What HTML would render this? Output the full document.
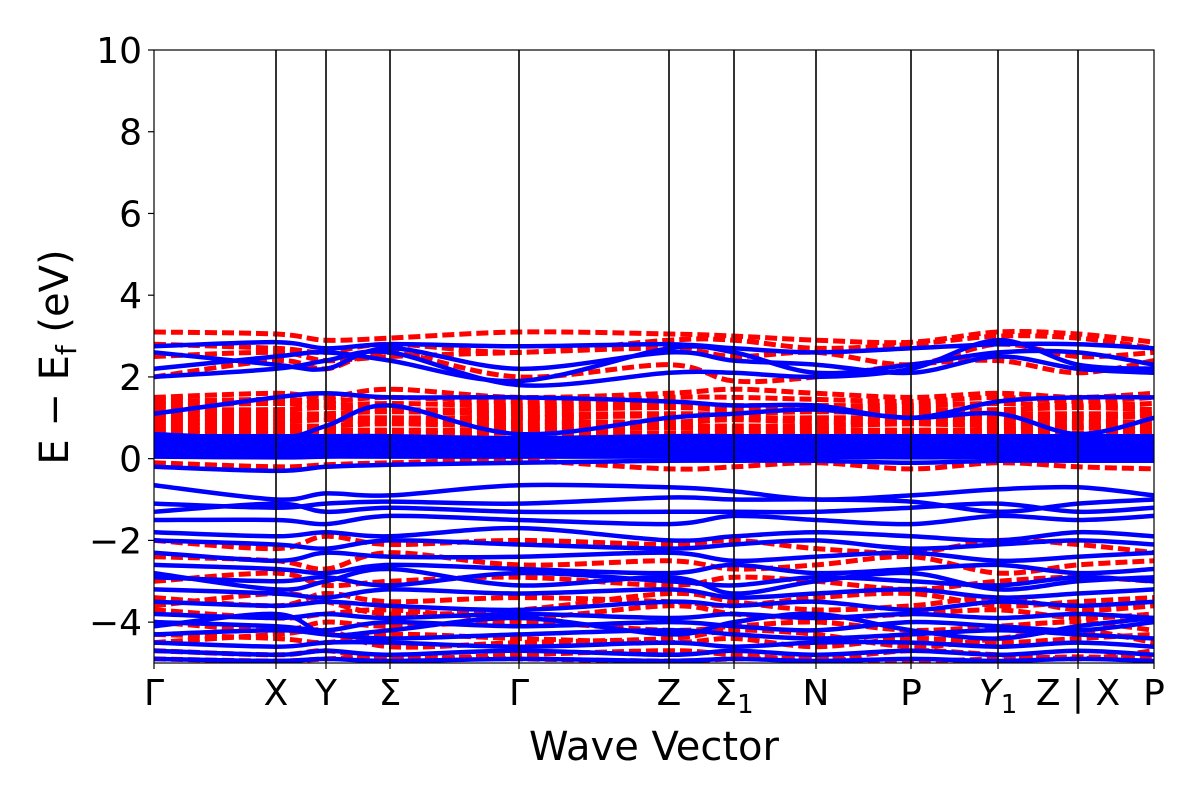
<!DOCTYPE html>
<html><head><meta charset="utf-8"><style>
body{margin:0;background:#fff;}
svg text{font-family:"DejaVu Sans","Liberation Sans",sans-serif;fill:#000;}
</style></head><body>
<svg id="chart" width="1200" height="800" viewBox="0 0 1200 800" xmlns="http://www.w3.org/2000/svg">
<defs><clipPath id="clip"><rect x="154" y="50" width="1000" height="613"/></clipPath></defs>
<g id="bands" clip-path="url(#clip)"></g>
<g id="vlines"></g>
<rect x="154" y="50" width="1000" height="613" fill="none" stroke="#000" stroke-width="1.2"/>
<g id="yaxis"></g>
<g id="xaxis"></g>
<text x="654" y="760" font-size="40" text-anchor="middle">Wave Vector</text>
<text transform="translate(68,357) rotate(-90)" font-size="40" text-anchor="middle">E − E<tspan font-size="28" dy="8">f</tspan><tspan dy="-8"> (eV)</tspan></text>
</svg>
<script>
const kPos=[0,122,172,236,365,515,580,662,757,844,924,1000];
const kLabels=["Γ","X","Y","Σ","Γ","Z","Σ_1","N","P","Y_1","Z | X","P"];
const yTicks=[10,8,6,4,2,0,-2,-4];
const redBands=[
[3.1,3.05,2.9,2.95,3.1,3.05,3.0,2.9,2.85,3.1,3.05,2.85],
[2.8,2.7,2.6,2.8,2.6,2.9,2.9,2.7,2.8,3.0,2.95,2.7],
[2.5,2.6,2.4,2.5,2.6,2.7,2.5,2.6,2.3,2.8,2.5,2.6],
[2.0,2.4,2.2,2.6,2.0,2.3,1.9,2.0,2.3,2.4,2.1,2.4],
[1.5,1.6,1.5,1.7,1.5,1.6,1.7,1.6,1.5,1.6,1.5,1.6],
[1.4,1.45,1.4,1.5,1.4,1.5,1.5,1.45,1.4,1.5,1.4,1.5],
[1.3,1.35,1.3,1.35,1.3,1.35,1.3,1.3,1.3,1.35,1.3,1.35],
[1.2,1.2,1.25,1.2,1.2,1.25,1.2,1.2,1.2,1.2,1.25,1.2],
[1.1,1.1,1.1,1.15,1.1,1.1,1.1,1.15,1.1,1.1,1.1,1.1],
[1.0,1.0,1.0,1.0,1.0,1.05,1.0,1.0,1.0,1.0,1.0,1.05],
[0.9,0.9,0.95,0.9,0.9,0.9,0.95,0.9,0.9,0.9,0.9,0.9],
[0.8,0.8,0.8,0.85,0.8,0.8,0.8,0.8,0.85,0.8,0.8,0.8],
[0.7,0.7,0.7,0.7,0.7,0.75,0.7,0.7,0.7,0.7,0.75,0.7],
[0.62,0.62,0.62,0.62,0.62,0.62,0.62,0.62,0.62,0.62,0.62,0.62],
[-0.1,-0.2,-0.15,-0.1,-0.05,-0.25,-0.2,-0.1,-0.25,-0.1,-0.2,-0.25],
[-2.0,-2.2,-1.9,-2.1,-2.0,-2.1,-2.0,-2.2,-2.3,-2.0,-2.1,-2.3],
[-2.4,-2.5,-2.7,-2.3,-2.6,-2.5,-2.7,-2.6,-2.4,-2.8,-2.6,-2.5],
[-3.0,-2.8,-3.1,-3.0,-2.9,-3.1,-2.9,-3.0,-3.2,-3.0,-2.9,-3.0],
[-3.4,-3.6,-3.3,-3.5,-3.4,-3.5,-3.6,-3.4,-3.3,-3.6,-3.5,-3.4],
[-3.7,-3.9,-3.8,-3.7,-3.9,-3.6,-3.8,-3.9,-3.8,-3.7,-3.9,-3.8],
[-4.0,-4.2,-4.0,-4.1,-4.0,-4.2,-4.1,-4.0,-4.2,-4.1,-4.0,-4.2],
[-4.3,-4.4,-4.5,-4.3,-4.4,-4.5,-4.4,-4.6,-4.4,-4.5,-4.4,-4.3],
[-4.7,-4.8,-4.7,-4.9,-4.8,-4.7,-4.8,-4.9,-4.7,-4.8,-4.9,-4.7],
[-4.9,-4.95,-4.9,-4.85,-4.9,-4.95,-4.9,-4.9,-4.95,-4.9,-4.85,-4.9],
[-3.6,-3.3,-3.5,-3.8,-3.7,-3.3,-3.5,-3.7,-3.6,-3.4,-3.7,-3.6],
[-4.5,-4.3,-4.2,-4.6,-4.5,-4.4,-4.2,-4.3,-4.6,-4.4,-4.2,-4.5]
];
const blueBands=[
[2.75,2.85,2.7,2.8,2.75,2.8,2.7,2.6,2.7,2.8,2.8,2.7],
[2.2,2.5,2.6,2.4,1.9,2.7,2.6,2.1,2.3,2.6,2.6,2.3],
[2.0,2.2,2.4,2.6,1.8,2.1,2.1,2.0,2.2,2.9,2.3,2.2],
[2.6,2.3,2.2,2.7,2.2,2.6,2.4,2.3,2.1,2.5,2.2,2.1],
[1.1,1.5,1.6,1.5,1.5,1.4,1.3,1.3,1.0,1.4,1.5,1.5],
[0.6,0.5,0.8,1.3,0.6,1.0,1.1,1.2,1.0,1.1,0.6,1.0],
[0.55,0.55,0.55,0.55,0.5,0.55,0.55,0.55,0.55,0.55,0.55,0.55],
[0.48,0.48,0.5,0.48,0.48,0.5,0.48,0.48,0.5,0.48,0.48,0.5],
[0.42,0.42,0.42,0.44,0.42,0.42,0.42,0.44,0.42,0.42,0.42,0.42],
[0.36,0.36,0.36,0.36,0.38,0.36,0.36,0.36,0.36,0.38,0.36,0.36],
[0.3,0.3,0.3,0.3,0.3,0.3,0.3,0.32,0.3,0.3,0.3,0.3],
[0.24,0.24,0.24,0.24,0.24,0.24,0.26,0.24,0.24,0.24,0.24,0.24],
[0.18,0.18,0.18,0.2,0.18,0.18,0.18,0.18,0.18,0.18,0.2,0.18],
[0.12,0.12,0.12,0.12,0.12,0.14,0.12,0.12,0.12,0.12,0.12,0.12],
[0.05,0.03,0.05,0.05,0.05,0.05,0.05,0.05,0.03,0.05,0.05,0.05],
[-0.2,-0.3,-0.2,-0.15,-0.1,-0.05,-0.05,-0.05,-0.1,-0.05,-0.05,-0.05],
[-0.65,-1.0,-0.85,-0.9,-0.65,-0.7,-0.8,-1.0,-0.9,-0.75,-0.7,-0.9],
[-1.1,-1.2,-1.1,-1.05,-1.1,-0.95,-1.0,-1.0,-1.05,-1.3,-1.1,-1.0],
[-1.3,-1.1,-1.3,-1.2,-1.3,-1.3,-1.3,-1.3,-1.2,-1.1,-1.3,-1.2],
[-1.5,-1.5,-1.6,-1.4,-1.5,-1.6,-1.4,-1.5,-1.6,-1.4,-1.5,-1.4],
[-1.8,-1.9,-1.8,-1.9,-1.7,-2.0,-1.9,-1.8,-1.9,-2.0,-1.8,-1.9],
[-2.0,-2.1,-2.2,-2.0,-2.1,-2.2,-2.1,-2.0,-2.2,-2.1,-2.0,-2.1],
[-2.3,-2.5,-2.3,-2.4,-2.4,-2.3,-2.5,-2.4,-2.3,-2.5,-2.4,-2.3],
[-2.6,-2.7,-2.8,-2.6,-2.7,-2.8,-2.6,-2.8,-2.7,-2.6,-2.8,-2.7],
[-2.9,-3.0,-2.9,-3.1,-2.8,-3.0,-3.1,-2.9,-3.0,-3.1,-2.9,-3.0],
[-3.2,-3.3,-3.4,-3.2,-3.3,-3.2,-3.4,-3.3,-3.2,-3.4,-3.3,-3.2],
[-3.5,-3.6,-3.5,-3.6,-3.7,-3.5,-3.6,-3.5,-3.7,-3.5,-3.6,-3.5],
[-3.8,-3.9,-3.8,-3.9,-3.8,-3.9,-3.8,-3.9,-3.8,-3.9,-3.8,-3.9],
[-4.0,-4.1,-4.2,-4.0,-4.1,-4.0,-4.1,-4.2,-4.0,-4.1,-4.2,-4.0],
[-4.3,-4.2,-4.3,-4.4,-4.3,-4.2,-4.3,-4.4,-4.3,-4.2,-4.3,-4.4],
[-4.5,-4.6,-4.5,-4.5,-4.6,-4.5,-4.6,-4.5,-4.5,-4.6,-4.5,-4.6],
[-4.7,-4.8,-4.7,-4.8,-4.7,-4.8,-4.7,-4.8,-4.7,-4.8,-4.7,-4.8],
[-4.9,-4.95,-4.9,-4.95,-4.9,-4.95,-4.9,-4.95,-4.9,-4.95,-4.9,-4.95],
[-2.8,-3.2,-3.0,-2.7,-3.1,-2.9,-3.3,-3.0,-2.8,-3.2,-3.0,-2.9],
[-4.1,-3.8,-4.3,-4.2,-3.9,-4.3,-4.0,-3.8,-4.2,-4.4,-4.1,-3.9]
];
const NS="http://www.w3.org/2000/svg";
const X0=154,X1=1154,Y0=663,Y1=50,EMIN=-5,EMAX=10;
function xS(k){return X0+(X1-X0)*k/1000;}
function yS(e){return Y0-(Y0-Y1)*(e-EMIN)/(EMAX-EMIN);}
function pathFor(b){
  const p=b.map((e,i)=>[xS(kPos[i]),yS(e)]);
  let d="M"+p[0][0].toFixed(1)+","+p[0][1].toFixed(1);
  for(let i=0;i<p.length-1;i++){
    const a=p[Math.max(0,i-1)],b0=p[i],c=p[i+1],n=p[Math.min(p.length-1,i+2)];
    const c1x=b0[0]+(c[0]-a[0])/6,c1y=b0[1]+(c[1]-a[1])/6;
    const c2x=c[0]-(n[0]-b0[0])/6,c2y=c[1]-(n[1]-b0[1])/6;
    d+=" C"+c1x.toFixed(1)+","+c1y.toFixed(1)+" "+c2x.toFixed(1)+","+c2y.toFixed(1)+" "+c[0].toFixed(1)+","+c[1].toFixed(1);
  }
  return d;
}
const g=document.getElementById("bands");
redBands.forEach((b,i)=>{
  const el=document.createElementNS(NS,"path");
  el.setAttribute("d",pathFor(b));
  el.setAttribute("fill","none");el.setAttribute("stroke","#ff0000");
  el.setAttribute("stroke-width","5");el.setAttribute("stroke-dasharray","12,5");
  
  
  g.appendChild(el);
});
blueBands.forEach((b,i)=>{
  const el=document.createElementNS(NS,"path");
  el.setAttribute("d",pathFor(b));
  el.setAttribute("fill","none");el.setAttribute("stroke","#0000ff");
  el.setAttribute("stroke-width","4.5");
  
  
  g.appendChild(el);
});
const vl=document.getElementById("vlines"),xa=document.getElementById("xaxis");
kPos.forEach((k,i)=>{
  const x=xS(k);
  if(i>0&&i<kPos.length-1){
    const l=document.createElementNS(NS,"line");
    l.setAttribute("x1",x);l.setAttribute("x2",x);l.setAttribute("y1",Y1);l.setAttribute("y2",Y0);
    l.setAttribute("stroke","#000");l.setAttribute("stroke-width","1.6");
    
    
    vl.appendChild(l);
  }
  const t=document.createElementNS(NS,"line");
  t.setAttribute("x1",x);t.setAttribute("x2",x);t.setAttribute("y1",Y0);t.setAttribute("y2",Y0+6);
  t.setAttribute("stroke","#000");t.setAttribute("stroke-width","1.2");
  
  
  xa.appendChild(t);
  const tx=document.createElementNS(NS,"text");
  tx.setAttribute("x",x);tx.setAttribute("y",705);tx.setAttribute("font-size","36");
  tx.setAttribute("text-anchor","middle");
  const parts=kLabels[i].split("_");
  const m=document.createElementNS(NS,"tspan");
  m.textContent=parts[0];
  if(parts[0]==="Y"&&parts.length>1)m.setAttribute("font-style","italic");
  tx.appendChild(m);
  if(parts.length>1){
    const s=document.createElementNS(NS,"tspan");
    s.setAttribute("font-size","26");s.setAttribute("dy","8");
    s.textContent=parts[1];
    tx.appendChild(s);
  }
  
  
  xa.appendChild(tx);
});
const ya=document.getElementById("yaxis");
yTicks.forEach(v=>{
  const y=yS(v);
  const t=document.createElementNS(NS,"line");
  t.setAttribute("x1",X0-6);t.setAttribute("x2",X0);t.setAttribute("y1",y);t.setAttribute("y2",y);
  t.setAttribute("stroke","#000");t.setAttribute("stroke-width","1.2");
  
  
  ya.appendChild(t);
  const tx=document.createElementNS(NS,"text");
  tx.setAttribute("x",X0-12);tx.setAttribute("y",y+13);tx.setAttribute("font-size","36");
  tx.setAttribute("text-anchor","end");tx.textContent=(v<0?"−"+(-v):String(v));
  
  
  ya.appendChild(tx);
});
</script>
</body></html>
